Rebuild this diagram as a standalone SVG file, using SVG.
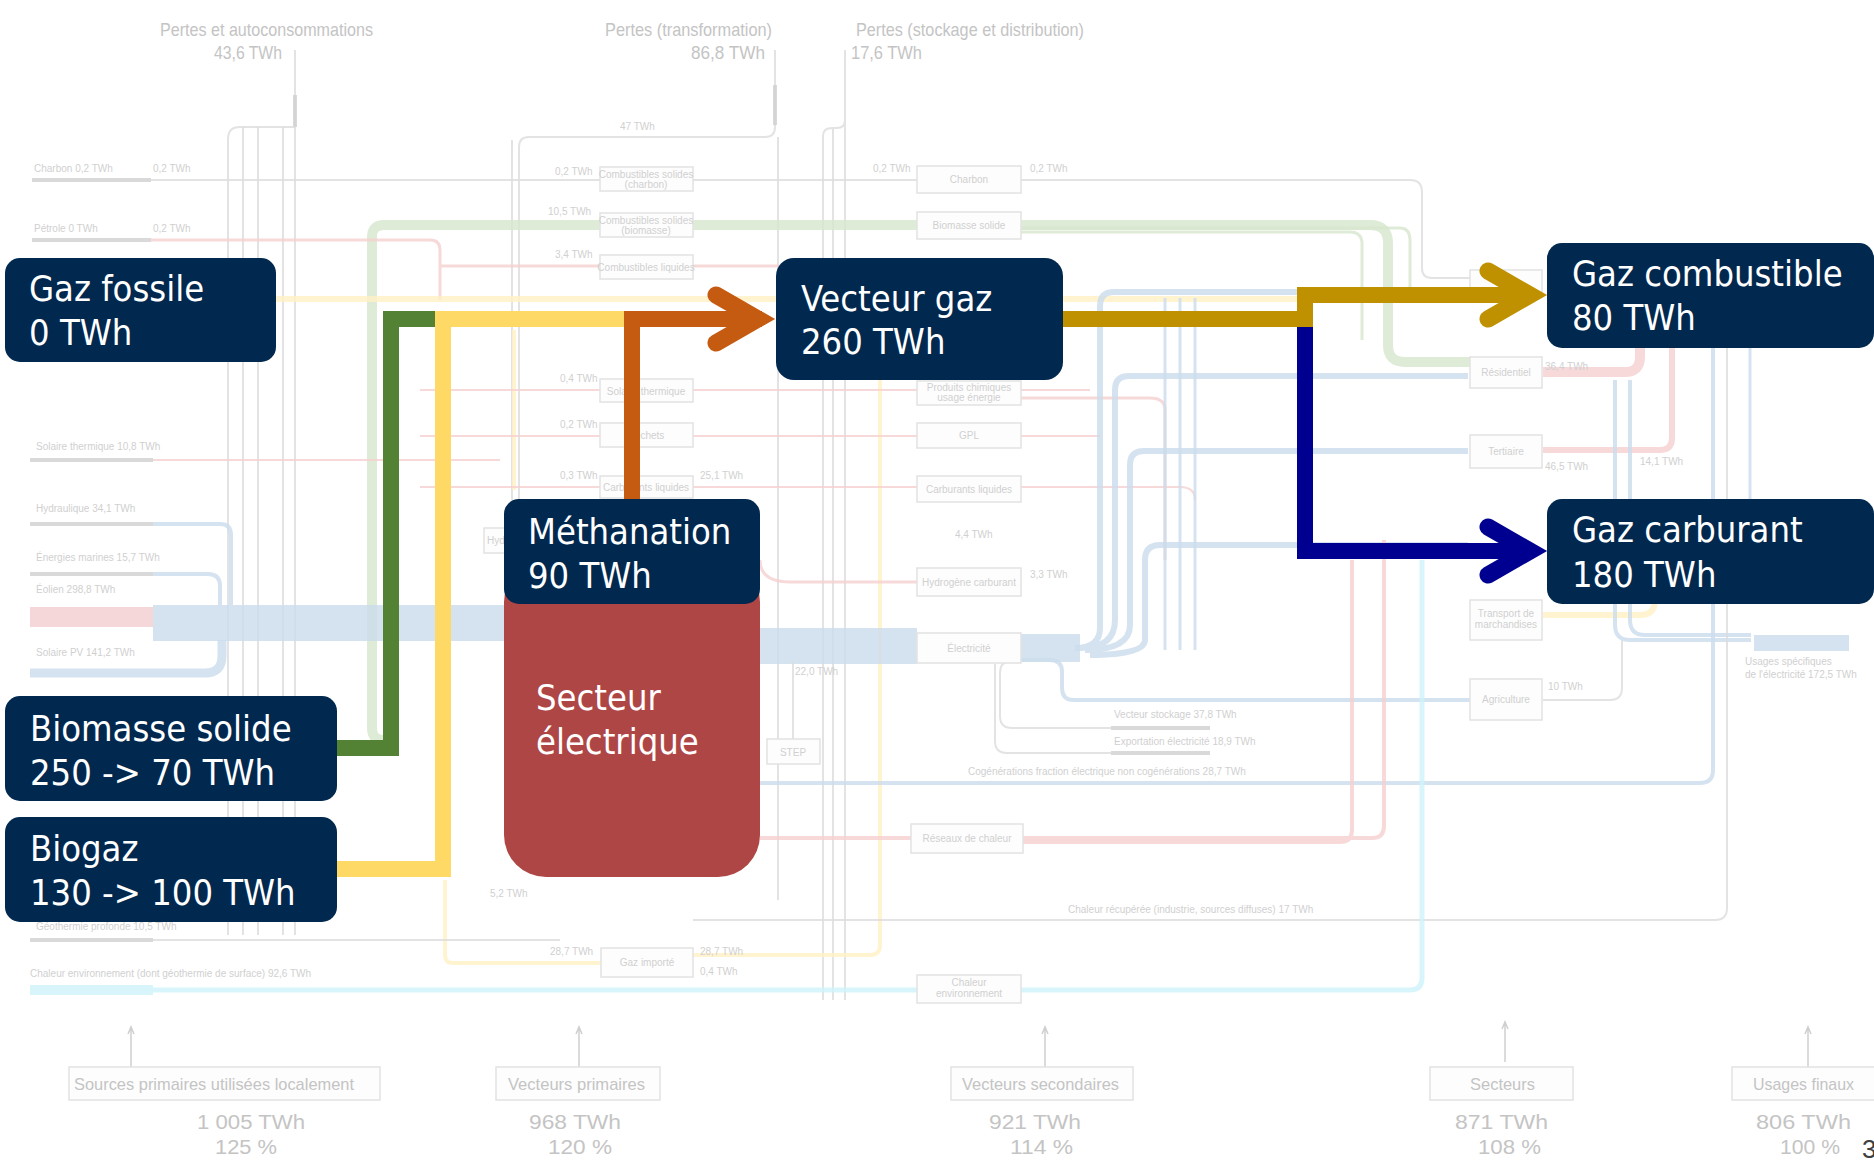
<svg xmlns="http://www.w3.org/2000/svg" width="1874" height="1167" viewBox="0 0 1874 1167">
<defs>
<style>
.bg-t{font-family:"Liberation Sans Narrow","Liberation Sans",sans-serif;fill:#c4c4c4}
.bg-s{font-family:"Liberation Sans Narrow","Liberation Sans",sans-serif;fill:#d0d0d0;font-size:10px}
.ln{fill:none;stroke-linecap:butt;opacity:.8}
.g{stroke:#dcdcdc;stroke-width:2}
.gd{stroke:#cfcfcf;stroke-width:4}
.gr{stroke:#d6e6cd}
.bl{stroke:#cadcec}
.rd{stroke:#f5d0d0}
.cy{stroke:#cdf3fa}
.ye{stroke:#fff0c4}
.bx{fill:#fdfdfd;stroke:#e2e2e2;stroke-width:1.5}
.node{fill:#01284f}
.lbl{font-family:"DejaVu Sans Condensed","Liberation Sans",sans-serif;font-size:36px;fill:#ffffff}
.flow{fill:none;stroke-width:16;stroke-linejoin:miter;stroke-linecap:butt}
.chev{fill:none;stroke-width:17;stroke-linejoin:miter;stroke-linecap:round}
</style>
<path id="chevron" d="M-42,-24 L0,0 L-42,24"/>
<path id="uparrow" d="M0,40 V0 M-3,7 L0,0 L3,7"/>
</defs>
<rect x="0" y="0" width="1874" height="1167" fill="#ffffff"/>

<g id="background">
  <!-- header texts -->
  <text class="bg-t" x="160" y="36" font-size="19" textLength="213" lengthAdjust="spacingAndGlyphs">Pertes et autoconsommations</text>
  <text class="bg-t" x="214" y="59" font-size="19" textLength="68" lengthAdjust="spacingAndGlyphs">43,6 TWh</text>
  <text class="bg-t" x="605" y="36" font-size="19" textLength="167" lengthAdjust="spacingAndGlyphs">Pertes (transformation)</text>
  <text class="bg-t" x="691" y="59" font-size="19" textLength="74" lengthAdjust="spacingAndGlyphs">86,8 TWh</text>
  <text class="bg-t" x="856" y="36" font-size="19" textLength="228" lengthAdjust="spacingAndGlyphs">Pertes (stockage et distribution)</text>
  <text class="bg-t" x="851" y="59" font-size="19" textLength="71" lengthAdjust="spacingAndGlyphs">17,6 TWh</text>

  <!-- loss collectors -->
  <path class="ln g" d="M295,50 V127"/>
  <path class="ln gd" d="M295,95 V127"/>
  <path class="ln g" d="M295,127 H240 Q228,127 228,139 V935"/>
  <path class="ln g" d="M243,127 V935 M258,127 V935 M283,127 V935 M295,127 V935"/>
  <path class="ln g" d="M775,50 V127 Q775,137 765,137 H529 Q519,137 519,147 V700"/>
  <path class="ln gd" d="M775,85 V125"/>
  <path class="ln g" d="M512,140 V700 M778,137 V900"/>
  <path class="ln g" d="M845,50 V120 Q845,128 837,128 H832 Q823,128 823,136 V1000 M833,128 V1000 M845,120 V1000"/>
  <text class="bg-s" x="620" y="130">47 TWh</text>

  <!-- top rows -->
  <path class="ln gd" d="M32,180 H151"/>
  <path class="ln g" d="M151,180 H600 M693,180 H917 M1021,180 H1410 Q1422,180 1422,192 V268 Q1422,278 1432,278 H1470"/>
  <text class="bg-s" x="34" y="172">Charbon 0,2 TWh</text>
  <text class="bg-s" x="153" y="172">0,2 TWh</text>
  <text class="bg-s" x="555" y="175">0,2 TWh</text>
  <text class="bg-s" x="873" y="172">0,2 TWh</text>
  <text class="bg-s" x="1030" y="172">0,2 TWh</text>

  <path class="ln gr" stroke-width="10" d="M383,740 Q372,740 372,728 V237 Q372,225 384,225 H600 M693,225 H917 M1021,225 H1370 Q1388,225 1388,243 V345 Q1388,362 1405,362 H1470"/>
  <path class="ln gr" stroke-width="3" d="M1021,232 H1350 Q1362,232 1362,244 V340 M1021,228 H1400 Q1410,228 1410,240 V300"/>
  <text class="bg-s" x="548" y="215">10,5 TWh</text>

  <path class="ln gd" d="M32,240 H151"/>
  <path class="ln rd" stroke-width="3" d="M151,240 H430 Q440,240 440,250 V300 M440,266 H600 M693,266 H900"/>
  <text class="bg-s" x="34" y="232">Pétrole 0 TWh</text>
  <text class="bg-s" x="153" y="232">0,2 TWh</text>
  <text class="bg-s" x="555" y="258">3,4 TWh</text>

  <path class="ln ye" stroke-width="6" d="M276,299 H1480"/>
  <path class="ln ye" stroke-width="4" d="M514,330 V490 M445,880 V955 Q445,963 453,963 H601 M693,955 H870 Q880,955 880,945 V300"/>

  <!-- middle rows -->
  <path class="ln gd" d="M30,460 H153"/>
  <path class="ln rd" stroke-width="2" d="M153,460 H500 M420,390 H600 M693,390 H917 M1021,390 H1090 M420,436 H600 M693,436 H917 M1021,436 H1100 M420,487 H600 M693,487 H917 M1021,487 H1180 Q1195,487 1195,500"/>
  <path class="ln rd" stroke-width="3" d="M1021,398 H1150 Q1165,398 1165,410 V560 M760,560 Q760,582 790,582 H917"/>
  <text class="bg-s" x="36" y="450">Solaire thermique 10,8 TWh</text>
  <text class="bg-s" x="560" y="382">0,4 TWh</text>
  <text class="bg-s" x="560" y="428">0,2 TWh</text>
  <text class="bg-s" x="560" y="479">0,3 TWh</text>
  <text class="bg-s" x="700" y="479">25,1 TWh</text>
  <text class="bg-s" x="955" y="538">4,4 TWh</text>
  <text class="bg-s" x="1030" y="578">3,3 TWh</text>

  <!-- electricity -->
  <path class="ln gd" d="M30,524 H153 M30,574 H153"/>
  <path class="ln bl" stroke-width="4" d="M153,524 H220 Q231,524 231,535 V605 M153,574 H208 Q220,574 220,586 V605"/>
  <path class="ln" stroke="#f3cdd0" stroke-width="20" d="M30,617 H153"/>
  <path class="ln bl" stroke-width="36" d="M153,623 H520 C560,623 560,646 600,646 H917"/>
  <path class="ln bl" stroke-width="9" d="M30,673 H205 Q222,673 222,656 V640"/>
  <text class="bg-s" x="36" y="512">Hydraulique 34,1 TWh</text>
  <text class="bg-s" x="36" y="561">Énergies marines 15,7 TWh</text>
  <text class="bg-s" x="36" y="593">Éolien 298,8 TWh</text>
  <text class="bg-s" x="36" y="656">Solaire PV 141,2 TWh</text>
  <path class="ln bl" stroke-width="28" d="M1021,648 H1080"/>
  <path class="ln bl" stroke-width="6" d="M1075,648 Q1100,648 1100,628 V306 Q1100,292 1114,292 H1468 M1080,648 Q1115,648 1115,620 V390 Q1115,376 1129,376 H1468 M1085,650 Q1130,650 1130,625 V465 Q1130,451 1144,451 H1468 M1090,655 Q1145,655 1145,640 V560 Q1145,545 1160,545 H1468"/>
  <path class="ln bl" stroke-width="4" d="M1021,660 H1050 Q1062,660 1062,672 V688 Q1062,700 1074,700 H1470"/>
  <path class="ln bl" stroke-width="3" d="M1165,298 V650 M1180,298 V650 M1195,298 V650"/>
  <path class="ln g" d="M1008,662 Q1000,662 1000,674 V716 Q1000,728 1012,728 H1111 M995,664 V741 Q995,753 1007,753 H1111"/>
  <path class="ln gd" d="M1111,728 H1210 M1111,753 H1210"/>
  <text class="bg-s" x="1114" y="718">Vecteur stockage 37,8 TWh</text>
  <text class="bg-s" x="1114" y="745">Exportation électricité 18,9 TWh</text>
  <path class="ln g" d="M793,662 V739"/>
  <text class="bg-s" x="795" y="675">22,0 TWh</text>

  <!-- right side -->
  <path class="ln rd" stroke-width="10" d="M1543,372 H1625 Q1640,372 1640,357 V348"/>
  <path class="ln rd" stroke-width="6" d="M1543,450 H1660 Q1672,450 1672,438 V348"/>
  <path class="ln ye" stroke-width="6" d="M1543,615 H1640 Q1655,615 1655,600 V560"/>
  <path class="ln bl" stroke-width="4" d="M1615,380 V625 Q1615,640 1630,640 H1751 M1630,380 V620 Q1630,635 1645,635 H1751"/>
  <path class="ln bl" stroke-width="16" d="M1754,643 H1849"/>
  <path class="ln g" d="M1543,700 H1610 Q1622,700 1622,688 V640"/>
  <text class="bg-s" x="1745" y="665">Usages spécifiques</text>
  <text class="bg-s" x="1745" y="678">de l'électricité 172,5 TWh</text>
  <text class="bg-s" x="1545" y="370">36,4 TWh</text>
  <text class="bg-s" x="1545" y="470">46,5 TWh</text>
  <text class="bg-s" x="1548" y="690">10 TWh</text>
  <text class="bg-s" x="1640" y="465">14,1 TWh</text>

  <!-- long bottom lines -->
  <path class="ln bl" stroke-width="4" d="M760,783 H1700 Q1713,783 1713,770 V300"/>
  <path class="ln bl" stroke-width="3" d="M1750,300 V520 Q1750,535 1738,540"/>
  <text class="bg-s" x="968" y="775">Cogénérations fraction électrique non cogénérations 28,7 TWh</text>
  <path class="ln g" d="M693,920 H1715 Q1727,920 1727,908 V300"/>
  <text class="bg-s" x="1068" y="913">Chaleur récupérée (industrie, sources diffuses) 17 TWh</text>
  <path class="ln rd" stroke-width="4" d="M760,838 H911 M1023,838 H1372 Q1384,838 1384,826 V540 M1023,842 H1340 Q1352,842 1352,830 V560"/>
  <path class="ln gd" d="M30,940 H153"/>
  <path class="ln g" stroke-width="3" d="M153,940 H560"/>
  <text class="bg-s" x="36" y="930">Géothermie profonde 10,5 TWh</text>
  <path class="ln cy" stroke-width="10" d="M30,990 H153"/>
  <path class="ln cy" stroke-width="5" d="M153,990 H917 M1021,990 H1410 Q1422,990 1422,978 V560"/>
  <text class="bg-s" x="30" y="977">Chaleur environnement (dont géothermie de surface) 92,6 TWh</text>
  <text class="bg-s" x="550" y="955">28,7 TWh</text>
  <text class="bg-s" x="700" y="955">28,7 TWh</text>
  <text class="bg-s" x="700" y="975">0,4 TWh</text>
  <text class="bg-s" x="490" y="897">5,2 TWh</text>

  <!-- small boxes -->
  <rect class="bx" x="600" y="167" width="93" height="24"/>
  <text class="bg-s" x="646" y="178" text-anchor="middle" font-size="8">Combustibles solides</text>
  <text class="bg-s" x="646" y="188" text-anchor="middle" font-size="8">(charbon)</text>
  <rect class="bx" x="600" y="213" width="93" height="24"/>
  <text class="bg-s" x="646" y="224" text-anchor="middle" font-size="8">Combustibles solides</text>
  <text class="bg-s" x="646" y="234" text-anchor="middle" font-size="8">(biomasse)</text>
  <rect class="bx" x="600" y="255" width="93" height="24"/>
  <text class="bg-s" x="646" y="271" text-anchor="middle" font-size="9">Combustibles liquides</text>
  <rect class="bx" x="600" y="379" width="93" height="23"/>
  <text class="bg-s" x="646" y="395" text-anchor="middle" font-size="9">Solaire thermique</text>
  <rect class="bx" x="600" y="423" width="93" height="24"/>
  <text class="bg-s" x="646" y="439" text-anchor="middle" font-size="9">Déchets</text>
  <rect class="bx" x="600" y="476" width="93" height="22"/>
  <text class="bg-s" x="646" y="491" text-anchor="middle" font-size="9">Carburants liquides</text>
  <rect class="bx" x="484" y="528" width="40" height="25"/>
  <text class="bg-s" x="487" y="544" font-size="9">Hydr</text>
  <rect class="bx" x="601" y="948" width="92" height="29"/>
  <text class="bg-s" x="647" y="966" text-anchor="middle" font-size="9">Gaz importé</text>
  <rect class="bx" x="917" y="166" width="104" height="27"/>
  <text class="bg-s" x="969" y="183" text-anchor="middle">Charbon</text>
  <rect class="bx" x="917" y="212" width="104" height="27"/>
  <text class="bg-s" x="969" y="229" text-anchor="middle">Biomasse solide</text>
  <rect class="bx" x="917" y="381" width="104" height="24"/>
  <text class="bg-s" x="969" y="391" text-anchor="middle" font-size="8">Produits chimiques</text>
  <text class="bg-s" x="969" y="401" text-anchor="middle" font-size="8">usage énergie</text>
  <rect class="bx" x="917" y="423" width="104" height="25"/>
  <text class="bg-s" x="969" y="439" text-anchor="middle">GPL</text>
  <rect class="bx" x="917" y="476" width="104" height="26"/>
  <text class="bg-s" x="969" y="493" text-anchor="middle">Carburants liquides</text>
  <rect class="bx" x="917" y="568" width="104" height="28"/>
  <text class="bg-s" x="969" y="586" text-anchor="middle">Hydrogène carburant</text>
  <rect class="bx" x="917" y="633" width="104" height="30"/>
  <text class="bg-s" x="969" y="652" text-anchor="middle">Électricité</text>
  <rect class="bx" x="767" y="739" width="53" height="25"/>
  <text class="bg-s" x="793" y="756" text-anchor="middle">STEP</text>
  <rect class="bx" x="911" y="824" width="112" height="29"/>
  <text class="bg-s" x="967" y="842" text-anchor="middle">Réseaux de chaleur</text>
  <rect class="bx" x="917" y="975" width="104" height="28"/>
  <text class="bg-s" x="969" y="986" text-anchor="middle" font-size="8">Chaleur</text>
  <text class="bg-s" x="969" y="997" text-anchor="middle" font-size="8">environnement</text>
  <rect class="bx" x="1470" y="270" width="72" height="27"/>
  <rect class="bx" x="1470" y="357" width="72" height="31"/>
  <text class="bg-s" x="1506" y="376" text-anchor="middle">Résidentiel</text>
  <rect class="bx" x="1470" y="435" width="72" height="33"/>
  <text class="bg-s" x="1506" y="455" text-anchor="middle">Tertiaire</text>
  <rect class="bx" x="1470" y="600" width="72" height="40"/>
  <text class="bg-s" x="1506" y="617" text-anchor="middle" font-size="8">Transport de</text>
  <text class="bg-s" x="1506" y="628" text-anchor="middle" font-size="8">marchandises</text>
  <rect class="bx" x="1470" y="679" width="72" height="41"/>
  <text class="bg-s" x="1506" y="703" text-anchor="middle">Agriculture</text>

  <!-- bottom legend -->
  <g stroke="#cfcfcf" stroke-width="1.5" fill="none">
    <use href="#uparrow" x="131" y="1027"/>
    <use href="#uparrow" x="579" y="1027"/>
    <use href="#uparrow" x="1045" y="1027"/>
    <use href="#uparrow" x="1505" y="1022"/>
    <use href="#uparrow" x="1808" y="1027"/>
  </g>
  <rect class="bx" x="69" y="1067" width="311" height="33"/>
  <rect class="bx" x="496" y="1067" width="164" height="33"/>
  <rect class="bx" x="951" y="1067" width="182" height="33"/>
  <rect class="bx" x="1430" y="1067" width="143" height="33"/>
  <rect class="bx" x="1732" y="1067" width="150" height="33"/>
  <text class="bg-t" x="74" y="1090" font-size="17" textLength="280" lengthAdjust="spacingAndGlyphs">Sources primaires utilisées localement</text>
  <text class="bg-t" x="508" y="1090" font-size="17" textLength="137" lengthAdjust="spacingAndGlyphs">Vecteurs primaires</text>
  <text class="bg-t" x="962" y="1090" font-size="17" textLength="157" lengthAdjust="spacingAndGlyphs">Vecteurs secondaires</text>
  <text class="bg-t" x="1470" y="1090" font-size="17" textLength="65" lengthAdjust="spacingAndGlyphs">Secteurs</text>
  <text class="bg-t" x="1753" y="1090" font-size="17" textLength="101" lengthAdjust="spacingAndGlyphs">Usages finaux</text>
  <text class="bg-t" x="197" y="1129" font-size="20" textLength="108" lengthAdjust="spacingAndGlyphs">1 005 TWh</text>
  <text class="bg-t" x="529" y="1129" font-size="20" textLength="92" lengthAdjust="spacingAndGlyphs">968 TWh</text>
  <text class="bg-t" x="989" y="1129" font-size="20" textLength="92" lengthAdjust="spacingAndGlyphs">921 TWh</text>
  <text class="bg-t" x="1455" y="1129" font-size="20" textLength="93" lengthAdjust="spacingAndGlyphs">871 TWh</text>
  <text class="bg-t" x="1756" y="1129" font-size="20" textLength="95" lengthAdjust="spacingAndGlyphs">806 TWh</text>
  <text class="bg-t" x="215" y="1154" font-size="20" textLength="62" lengthAdjust="spacingAndGlyphs">125 %</text>
  <text class="bg-t" x="548" y="1154" font-size="20" textLength="64" lengthAdjust="spacingAndGlyphs">120 %</text>
  <text class="bg-t" x="1010" y="1154" font-size="20" textLength="63" lengthAdjust="spacingAndGlyphs">114 %</text>
  <text class="bg-t" x="1478" y="1154" font-size="20" textLength="63" lengthAdjust="spacingAndGlyphs">108 %</text>
  <text class="bg-t" x="1780" y="1154" font-size="20" textLength="60" lengthAdjust="spacingAndGlyphs">100 %</text>
</g>

<g id="connectors">
  <polyline class="flow" stroke="#548235" points="337,748 391,748 391,319 435,319"/>
  <polyline class="flow" stroke="#FFD966" points="337,869 443,869 443,319 624,319"/>
  <polyline class="flow" stroke="#C55A11" points="632,499 632,319 762,319"/>
  <use href="#chevron" class="chev" stroke="#C55A11" x="758" y="319"/>
  <polyline class="flow" stroke="#BF9000" points="1063,319 1305,319 1305,295 1532,295"/>
  <use href="#chevron" class="chev" stroke="#BF9000" x="1530" y="295"/>
  <polyline class="flow" stroke="#000090" points="1305,327 1305,551 1532,551"/>
  <use href="#chevron" class="chev" stroke="#000090" x="1530" y="551"/>
</g>

<g id="node-secteur-electrique">
  <rect x="504" y="560" width="256" height="317" rx="42" fill="#AF4646"/>
  <text class="lbl" x="536" y="710">Secteur</text>
  <text class="lbl" x="536" y="754">électrique</text>
</g>
<g id="node-methanation">
  <rect class="node" x="504" y="499" width="256" height="105" rx="15"/>
  <text class="lbl" x="528" y="544">Méthanation</text>
  <text class="lbl" x="528" y="588">90 TWh</text>
</g>
<g id="node-gaz-fossile">
  <rect class="node" x="5" y="258" width="271" height="104" rx="15"/>
  <text class="lbl" x="29" y="301">Gaz fossile</text>
  <text class="lbl" x="29" y="345">0 TWh</text>
</g>
<g id="node-vecteur-gaz">
  <rect class="node" x="776" y="258" width="287" height="122" rx="18"/>
  <text class="lbl" x="801" y="311">Vecteur gaz</text>
  <text class="lbl" x="801" y="354">260 TWh</text>
</g>
<g id="node-gaz-combustible">
  <rect class="node" x="1547" y="243" width="327" height="105" rx="15"/>
  <text class="lbl" x="1572" y="286">Gaz combustible</text>
  <text class="lbl" x="1572" y="330">80 TWh</text>
</g>
<g id="node-gaz-carburant">
  <rect class="node" x="1547" y="499" width="327" height="105" rx="15"/>
  <text class="lbl" x="1572" y="542">Gaz carburant</text>
  <text class="lbl" x="1572" y="587">180 TWh</text>
</g>
<g id="node-biomasse-solide">
  <rect class="node" x="5" y="696" width="332" height="105" rx="15"/>
  <text class="lbl" x="30" y="741">Biomasse solide</text>
  <text class="lbl" x="30" y="785">250 -&gt; 70 TWh</text>
</g>
<g id="node-biogaz">
  <rect class="node" x="5" y="817" width="332" height="105" rx="15"/>
  <text class="lbl" x="30" y="861">Biogaz</text>
  <text class="lbl" x="30" y="905">130 -&gt; 100 TWh</text>
</g>
<text x="1862" y="1158" font-family="Liberation Sans, sans-serif" font-size="26" fill="#404040">3</text>
</svg>
